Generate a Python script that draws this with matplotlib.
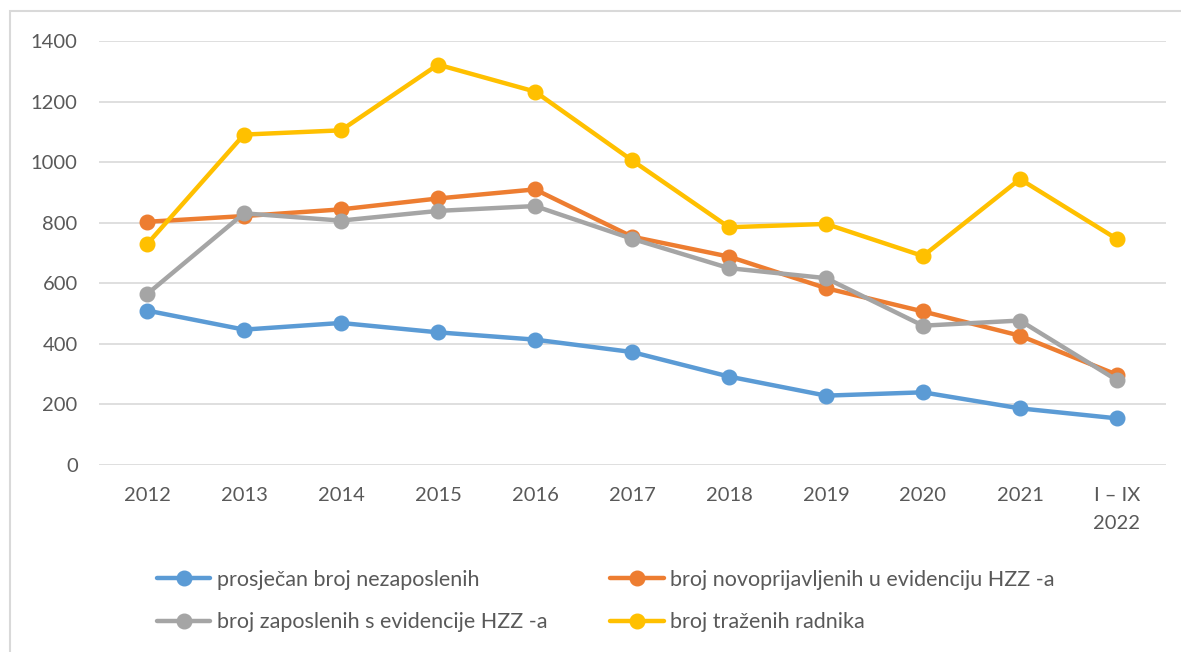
import matplotlib
matplotlib.use("Agg")
import matplotlib.pyplot as plt
from matplotlib.patches import Rectangle

categories = ["2012", "2013", "2014", "2015", "2016", "2017", "2018", "2019", "2020", "2021", "I – IX\n2022"]
nezaposleni = [510, 447, 469, 438, 414, 373, 292, 229, 240, 187, 154]
novoprijavljeni = [803, 822, 844, 880, 910, 754, 688, 584, 507, 427, 298]
zaposleni = [564, 831, 807, 839, 855, 747, 650, 617, 460, 477, 280]
trazeni = [729, 1091, 1105, 1322, 1233, 1006, 785, 796, 690, 944, 746]
series_names = ["prosječan broj nezaposlenih",
                "broj novoprijavljenih u evidenciju HZZ -a",
                "broj zaposlenih s evidencije HZZ -a",
                "broj traženih radnika"]
yticks = [0, 200, 400, 600, 800, 1000, 1200, 1400]

colors = ["#5B9BD5", "#ED7D31", "#A5A5A5", "#FFC000"]
txt = "#595959"
plt.rcParams['font.family'] = ['Lato', 'DejaVu Sans']

W, H = 1181, 652
fig = plt.figure(figsize=(W / 100, H / 100), dpi=100)
fig.patches.append(Rectangle((10 / W, -0.1), 1.2, 1 - 11 / H + 0.1, transform=fig.transFigure,
                             fill=False, edgecolor="#D9D9D9", linewidth=1.5))
ax = fig.add_axes([98.5 / W, 1 - 465 / H, (1165.5 - 98.5) / W, (465 - 41) / H])

x = list(range(len(categories)))
handles = []
for vals, c, name in zip([nezaposleni, novoprijavljeni, zaposleni, trazeni], colors, series_names):
    h, = ax.plot(x, vals, color=c, linewidth=3.2, marker="o", markersize=10.5,
                 solid_capstyle="round", label=name, zorder=3)
    handles.append(h)

ax.set_xlim(-0.5, len(categories) - 0.5)
ax.set_ylim(0, 1400)
ax.set_yticks(yticks)
ax.set_yticklabels([str(v) for v in yticks])
ax.set_xticks(x)
ax.set_xticklabels(categories, linespacing=1.75)
ax.grid(axis="y", color="#D9D9D9", linewidth=1.2, zorder=0)
ax.set_axisbelow(True)
for s in ["top", "right", "left", "bottom"]:
    ax.spines[s].set_visible(False)
ax.tick_params(axis="both", length=0, labelsize=14.5, colors=txt)
ax.tick_params(axis="y", pad=15)
ax.tick_params(axis="x", pad=16)

order = [0, 2, 1, 3]
leg = fig.legend([handles[i] for i in order], [series_names[i] for i in order],
                 ncol=2, frameon=False, fontsize=15.5, labelcolor=txt,
                 loc="upper left", bbox_to_anchor=(148 / W, 1 - 561 / H),
                 handlelength=2.5, handletextpad=0.3, columnspacing=2.9,
                 labelspacing=1.05, borderaxespad=0)

fig.savefig("out.png", dpi=100)
